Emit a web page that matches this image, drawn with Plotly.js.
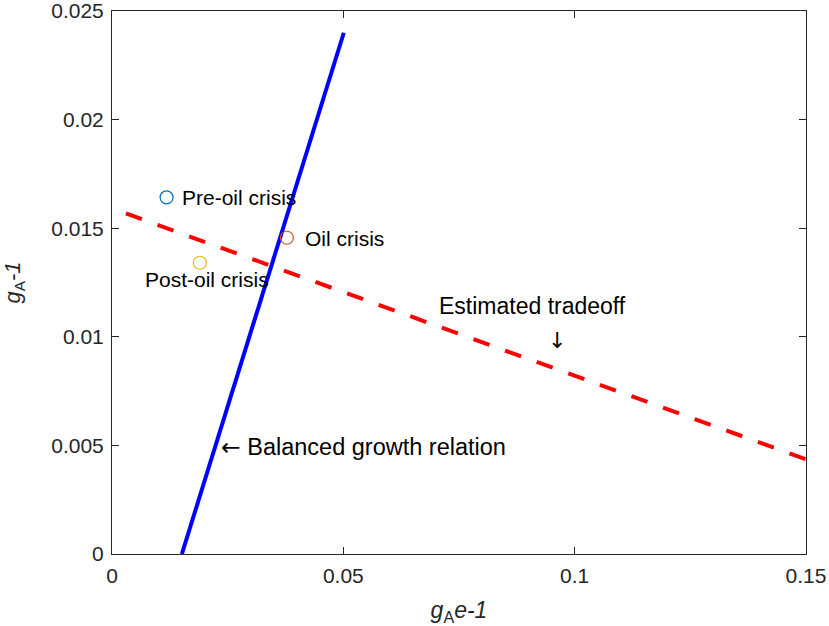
<!DOCTYPE html>
<html>
<head>
<meta charset="utf-8">
<script src="https://cdn.plot.ly/plotly-3.0.1.min.js"></script>
<style>html,body{margin:0;padding:0;background:#fff;}#chart{width:829px;height:626px;}</style>
</head>
<body>
<div id="chart"></div>
<script>
// Balanced growth relation (solid blue line)
const balancedX = [0.0151, 0.0501];
const balancedY = [0.0, 0.0240];
// Estimated tradeoff (dashed red line)
const tradeoffX = [0.003, 0.15];
const tradeoffY = [0.01568, 0.00436];
// Period observations
const periodNames = ['Pre-oil crisis', 'Oil crisis', 'Post-oil crisis'];
const periodX = [0.0118, 0.0378, 0.0190];
const periodY = [0.01642, 0.01456, 0.01341];
const periodColors = ['#0072BD', '#D95319', '#EDB120'];
// Ticks
const xTicks = [0, 0.05, 0.1, 0.15];
const xTickLabels = ['0', '0.05', '0.1', '0.15'];
const yTicks = [0, 0.005, 0.01, 0.015, 0.02, 0.025];
const yTickLabels = ['0', '0.005', '0.01', '0.015', '0.02', '0.025'];

const FONT = 'Arial, "Liberation Sans", Helvetica, sans-serif';
const ARROWFONT = '"DejaVu Sans", sans-serif';
const AXC = '#262626';

const traces = [
  {x: balancedX, y: balancedY, mode: 'lines', type: 'scatter',
   line: {color: '#0000FF', width: 4}, hoverinfo: 'skip', showlegend: false},
  {x: tradeoffX, y: tradeoffY, mode: 'lines', type: 'scatter',
   line: {color: '#FF0000', width: 4, dash: '17px,16.6px'}, hoverinfo: 'skip', showlegend: false}
];
periodNames.forEach((n, i) => {
  traces.push({x: [periodX[i]], y: [periodY[i]], mode: 'markers', type: 'scatter', name: n,
    marker: {symbol: 'circle-open', size: 13, color: periodColors[i], line: {width: 1.2, color: periodColors[i]}},
    showlegend: false});
});

function ann(text, x, y, xanchor, size) {
  return {text: text, x: x, y: y, xref: 'x', yref: 'y', showarrow: false,
    xanchor: xanchor || 'left', yanchor: 'middle', font: {family: FONT, size: size || 21, color: '#000'}};
}
function arrowSpan(ch) {
  return '<span style="font-family:' + "'DejaVu Sans'" + ';">' + ch + '</span>';
}

const annotations = [
  ann(periodNames[0], 0.0148, 0.01642, 'left', 21),
  ann(periodNames[1], 0.0413, 0.01451, 'left', 21),
  ann(periodNames[2], 0.0066, 0.01262, 'left', 21),
  ann('Estimated tradeoff', 0.0703, 0.01142, 'left', 23),
  {text: '\u2193', x: 0.0962, y: 0.00985, xref: 'x', yref: 'y', showarrow: false,
   xanchor: 'center', yanchor: 'middle', font: {family: ARROWFONT, size: 22, color: '#000'}},
  ann(arrowSpan('\u2190') + ' Balanced growth relation', 0.0232, 0.00492, 'left', 23.5)
];

const layout = {
  width: 829, height: 626,
  margin: {l: 112, r: 23, t: 11, b: 72},
  paper_bgcolor: '#fff', plot_bgcolor: '#fff',
  font: {family: FONT, color: AXC, size: 21},
  showlegend: false,
  xaxis: {
    range: [0, 0.15], tickvals: xTicks, ticktext: xTickLabels,
    ticks: 'inside', ticklen: 7, tickwidth: 1, tickcolor: AXC,
    showline: true, linecolor: AXC, linewidth: 1, mirror: 'allticks',
    showgrid: false, zeroline: false, ticklabeloverflow: 'allow', ticklabelstandoff: 3,
    tickfont: {family: FONT, size: 21, color: AXC},
    title: {text: '<i>g</i><sub>A</sub><i>e-1</i>', font: {family: FONT, size: 23, color: AXC}, standoff: 16}
  },
  yaxis: {
    range: [0, 0.025], tickvals: yTicks, ticktext: yTickLabels,
    ticks: 'inside', ticklen: 7, tickwidth: 1, tickcolor: AXC,
    showline: true, linecolor: AXC, linewidth: 1, mirror: 'allticks',
    showgrid: false, zeroline: false, ticklabeloverflow: 'allow', ticklabelstandoff: 3,
    tickfont: {family: FONT, size: 21, color: AXC},
    title: {text: '<i>g</i><sub>A</sub><i>-1</i>', font: {family: FONT, size: 22, color: AXC}, standoff: 26}
  },
  annotations: annotations
};

Plotly.newPlot('chart', traces, layout, {staticPlot: true, displayModeBar: false});
</script>
</body>
</html>
